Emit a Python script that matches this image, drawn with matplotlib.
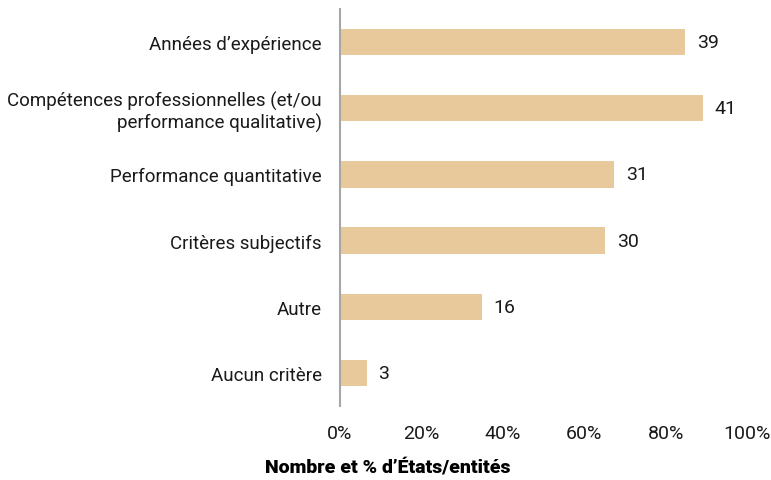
import matplotlib
matplotlib.use("Agg")
import matplotlib.pyplot as plt
from matplotlib.ticker import PercentFormatter

categories = ["Années d’expérience",
              "Compétences professionnelles (et/ou\nperformance qualitative)",
              "Performance quantitative",
              "Critères subjectifs",
              "Autre",
              "Aucun critère"]
counts = [39, 41, 31, 30, 16, 3]
total = 46
xticks = [0, 0.2, 0.4, 0.6, 0.8, 1.0]
xlabel = "Nombre et % d’États/entités"

plt.rcParams['font.family'] = ['Roboto', 'DejaVu Sans']

fig = plt.figure(figsize=(7.71, 4.81), dpi=100)
ax = fig.add_axes([340/771, 1-407/481, 407/771, 397/481])

ypos = list(range(len(categories)))
shares = [c / total for c in counts]
ax.barh(ypos, shares, height=0.4, color="#E8C99B")
for y, s, c in zip(ypos, shares, counts):
    ax.text(s + 0.029, y, str(c), va="center", ha="left", fontsize=14, color="#1a1a1a")

ax.set_yticks(ypos)
ax.set_yticklabels(categories, fontsize=13.5, color="#1a1a1a", linespacing=1.15)
ax.set_ylim(5.5, -0.5)
ax.set_xlim(0, 1.0)
ax.set_xticks(xticks)
ax.xaxis.set_major_formatter(PercentFormatter(1.0, decimals=0))
ax.tick_params(axis="x", length=0, pad=13, labelsize=14, labelcolor="#1a1a1a")
ax.tick_params(axis="y", length=0, pad=13)
for sp in ["top", "right", "bottom"]:
    ax.spines[sp].set_visible(False)
ax.spines["left"].set_color("#A6A6A6")
ax.spines["left"].set_linewidth(1.5)

fig.text(388/771, 1-468/481, xlabel, ha="center", va="center", fontsize=14,
         fontweight="black", color="black")

fig.savefig("out.png", dpi=100)
